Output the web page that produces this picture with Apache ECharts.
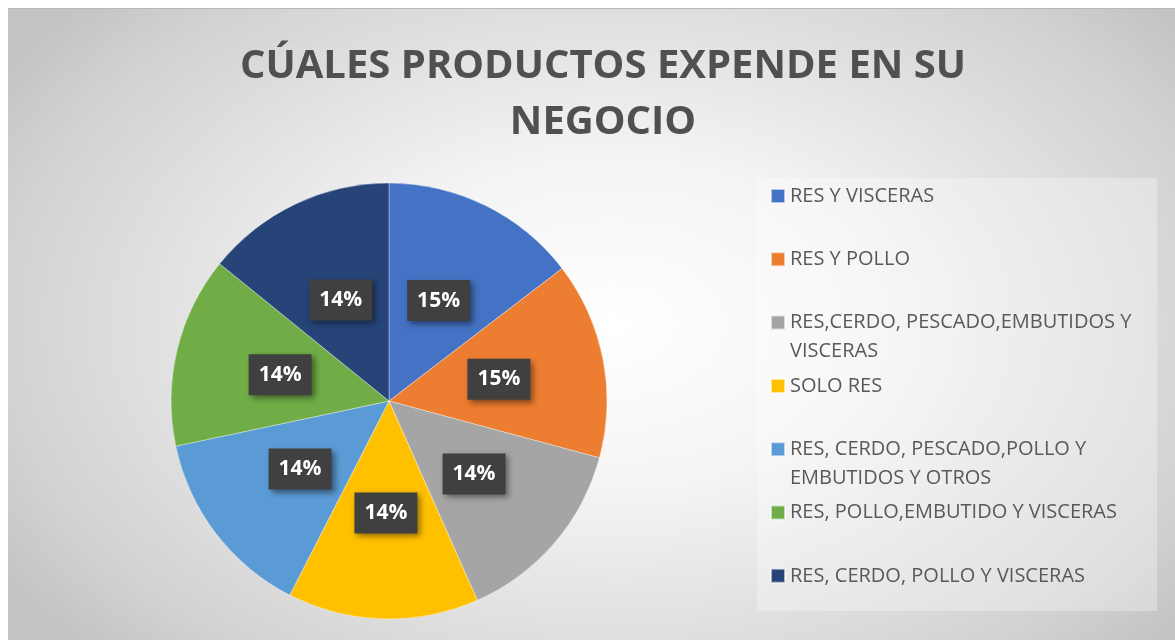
<!doctype html>
<html>
<head>
  <meta charset="utf-8" />
  <script src="https://cdn.jsdelivr.net/npm/echarts@6/dist/echarts.min.js"></script>
  <style>
    body { margin: 0; background: #fff; width: 1175px; height: 640px; overflow: hidden; }
    #chart {
      position: absolute; left: 8px; top: 8px; width: 1167px; height: 632px;
      border-top: 1px solid #b8b8b8; box-sizing: border-box;
      background: radial-gradient(ellipse 62% 75% at 52% 50%, #ffffff 0%, #f4f4f4 35%, #d2d2d2 85%, #c4c4c4 100%);
    }
  </style>
</head>
<body>
  <div id="chart"></div>
  <script>
    const titleText = "CÚALES PRODUCTOS EXPENDE EN SU\nNEGOCIO";
    const categories = [
      "RES Y VISCERAS",
      "RES Y POLLO",
      "RES,CERDO, PESCADO,EMBUTIDOS Y VISCERAS",
      "SOLO RES",
      "RES, CERDO, PESCADO,POLLO Y EMBUTIDOS Y OTROS",
      "RES, POLLO,EMBUTIDO Y VISCERAS",
      "RES, CERDO, POLLO Y VISCERAS"
    ];
    // legend text as it wraps in the picture
    const legendLabels = [
      "RES Y VISCERAS",
      "RES Y POLLO",
      "RES,CERDO, PESCADO,EMBUTIDOS Y\nVISCERAS",
      "SOLO RES",
      "RES, CERDO, PESCADO,POLLO Y\nEMBUTIDOS Y OTROS",
      "RES, POLLO,EMBUTIDO Y VISCERAS",
      "RES, CERDO, POLLO Y VISCERAS"
    ];
    const values = [14.6, 14.6, 14.16, 14.16, 14.16, 14.16, 14.16];
    const colors = ["#4472C4", "#ED7D31", "#A5A5A5", "#FFC000", "#5B9BD5", "#70AD47", "#264478"];

    const font = "'Open Sans', 'Noto Sans', sans-serif";
    const lineH = 29;

    // one legend per entry so every entry keeps the same slot height
    const legends = categories.map((name, i) => {
      const label = legendLabels[i];
      const twoLines = label.includes("\n");
      const iconY = 187 + i * 63.3;
      return {
        orient: "vertical",
        left: 762,
        top: iconY - (twoLines ? lineH * 1.5 : lineH / 2),
        padding: 0,
        data: [name],
        icon: "rect",
        itemWidth: 14,
        itemHeight: 14,
        selectedMode: false,
        formatter: () => (twoLines ? "\n" + label : label),
        textStyle: { color: "#595959", fontSize: 20, fontFamily: font, lineHeight: lineH }
      };
    });

    const chart = echarts.init(document.getElementById("chart"), null, { renderer: "canvas" });
    chart.setOption({
      animation: false,
      color: colors,
      title: {
        text: titleText,
        left: 590,
        top: 25,
        textAlign: "center",
        textStyle: { color: "#505050", fontSize: 40, fontWeight: "bold", fontFamily: font, lineHeight: 56 }
      },
      graphic: [{
        type: "rect",
        left: 749, top: 169,
        shape: { width: 400, height: 433 },
        style: { fill: "rgba(255,255,255,0.3)" },
        z: -1
      }],
      legend: legends,
      series: [{
        type: "pie",
        center: [381, 392],
        radius: 218,
        startAngle: 90,
        clockwise: true,
        data: categories.map((name, i) => ({ name, value: values[i] })),
        itemStyle: { borderColor: "rgba(255,255,255,0.6)", borderWidth: 0.6 },
        label: {
          position: "inside",
          formatter: p => Math.round(p.percent) + "%",
          color: "#ffffff",
          fontSize: 21,
          fontWeight: "bold",
          fontFamily: font,
          backgroundColor: "#404040",
          padding: [11, 10, 9, 10],
          shadowColor: "rgba(0,0,0,0.45)",
          shadowBlur: 6,
          shadowOffsetX: 3,
          shadowOffsetY: 3
        },
        labelLine: { show: false },
        emphasis: { disabled: true }
      }]
    });
  </script>
</body>
</html>
